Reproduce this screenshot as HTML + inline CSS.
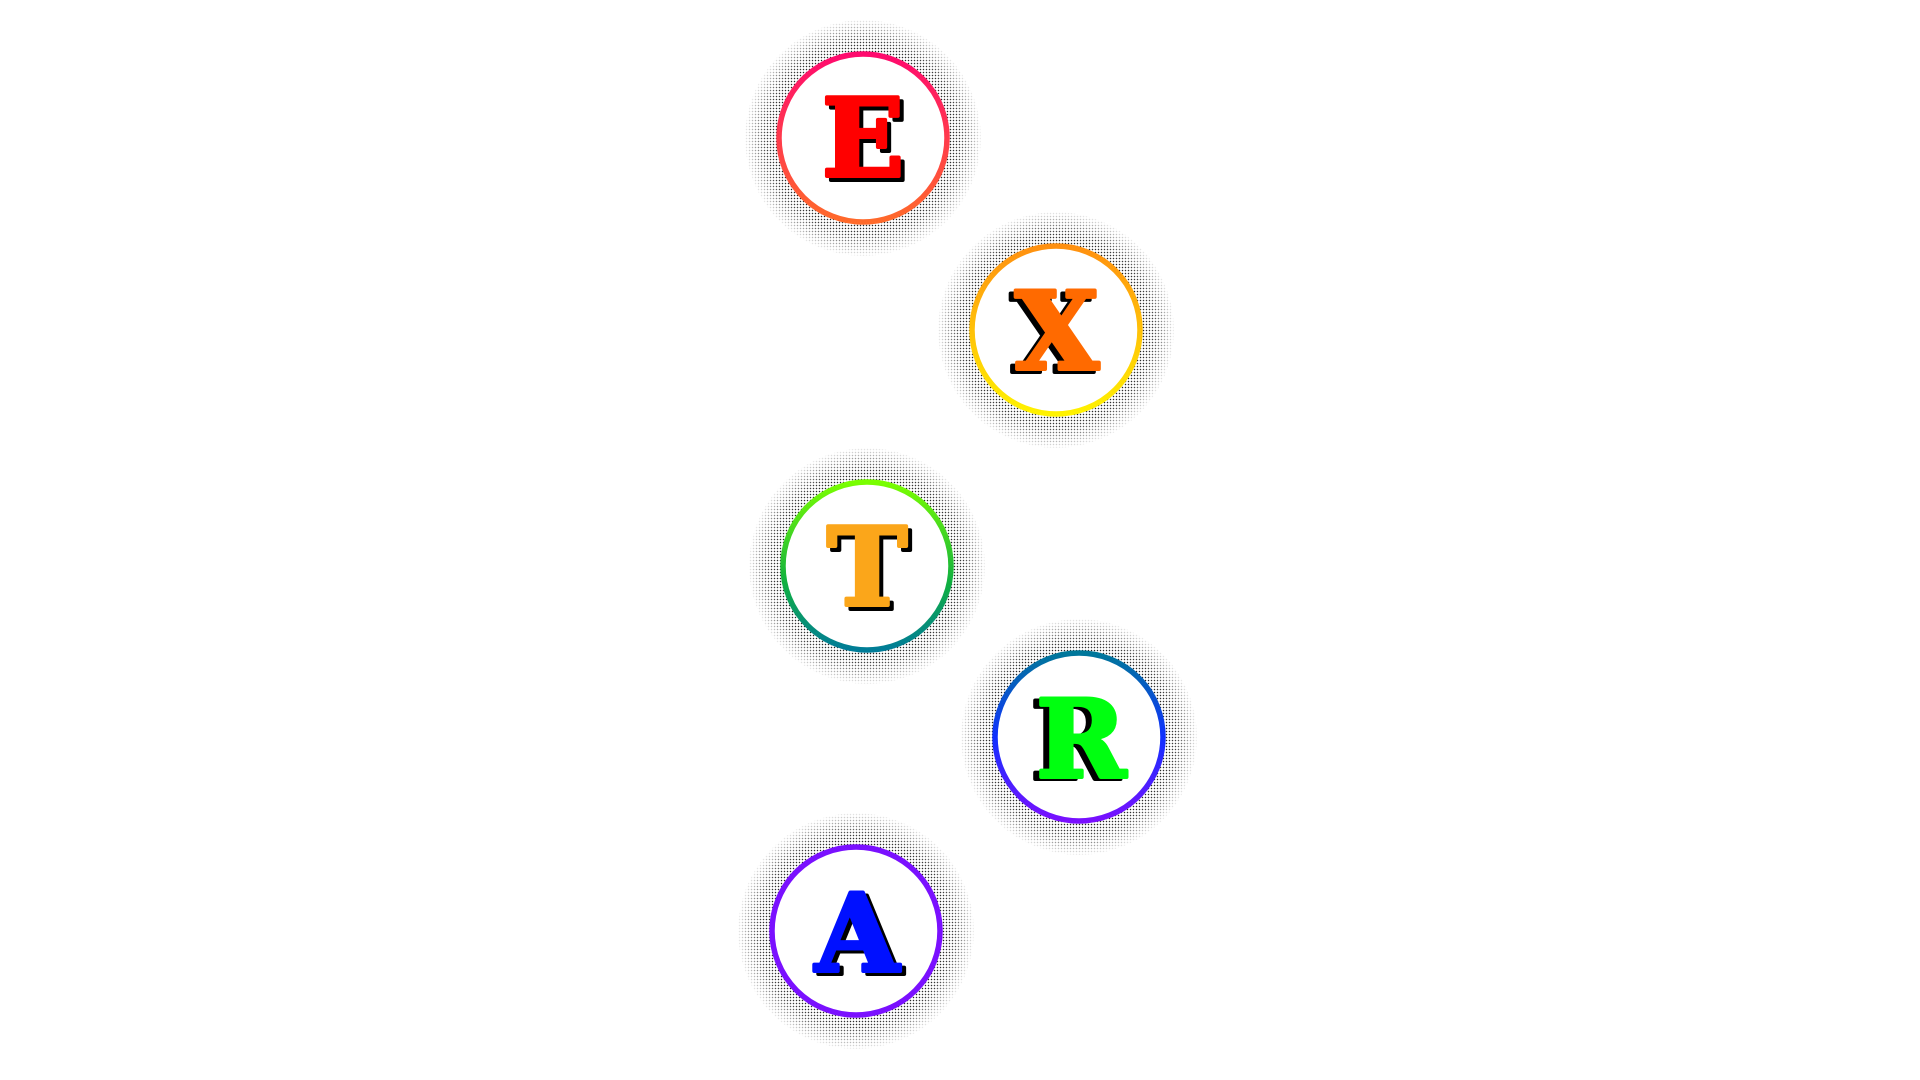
<!DOCTYPE html>
<html><head><meta charset="utf-8"><style>
html,body{margin:0;padding:0;background:#fff;width:1920px;height:1080px;overflow:hidden}
.halo{position:absolute;width:236px;height:236px;border-radius:50%;
background:radial-gradient(circle,#000 0.6px,transparent 0.9px) 0 0/3px 3px;
-webkit-mask:radial-gradient(circle,#000 0,#000 45%,rgba(0,0,0,.75) 58%,rgba(0,0,0,0) 72%);
mask:radial-gradient(circle,#000 0,#000 45%,rgba(0,0,0,.75) 58%,rgba(0,0,0,0) 72%);}
svg{position:absolute;left:0;top:0}
</style></head><body>
<div class="halo" style="left:745px;top:20px"></div>
<div class="halo" style="left:938px;top:212px"></div>
<div class="halo" style="left:749px;top:448px"></div>
<div class="halo" style="left:961px;top:619px"></div>
<div class="halo" style="left:738px;top:813px"></div>
<svg width="1920" height="1080">
<defs>
<linearGradient id="g1" x1="0" y1="0" x2="0" y2="1"><stop offset="0" stop-color="#ff0a6e"/><stop offset="1" stop-color="#ff6a2a"/></linearGradient>
<linearGradient id="g2" x1="0" y1="0" x2="0" y2="1"><stop offset="0" stop-color="#ff9010"/><stop offset="1" stop-color="#fff200"/></linearGradient>
<linearGradient id="g3" x1="0" y1="0" x2="0" y2="1"><stop offset="0" stop-color="#7aff00"/><stop offset="0.6" stop-color="#10b040"/><stop offset="1" stop-color="#007c98"/></linearGradient>
<linearGradient id="g4" x1="0" y1="0" x2="0" y2="1"><stop offset="0" stop-color="#00789a"/><stop offset="0.5" stop-color="#1030ff"/><stop offset="1" stop-color="#7a10ff"/></linearGradient>
<linearGradient id="g5" x1="0" y1="0" x2="0" y2="1"><stop offset="0" stop-color="#7a10ff"/><stop offset="1" stop-color="#7a10ff"/></linearGradient>
</defs>
<g fill="#fff" stroke-width="5.5">
<circle cx="863" cy="138" r="84" stroke="url(#g1)"/>
<circle cx="1056" cy="330" r="84" stroke="url(#g2)"/>
<circle cx="867" cy="566" r="84" stroke="url(#g3)"/>
<circle cx="1079" cy="737" r="84" stroke="url(#g4)"/>
<circle cx="856" cy="931" r="84" stroke="url(#g5)"/>
</g>
<g font-family="'DejaVu Serif',serif" font-weight="bold" font-size="108" text-anchor="middle" stroke-width="4" stroke-linejoin="round">
<text x="867" y="180" fill="#000" stroke="#000">E</text><text x="863" y="176" fill="#f00" stroke="#f00">E</text>
<text x="1052" y="372" fill="#000" stroke="#000">X</text><text x="1057" y="369" fill="#ff6a00" stroke="#ff6a00">X</text>
<text x="871" y="609" fill="#000" stroke="#000">T</text><text x="867" y="605" fill="#fba61a" stroke="#fba61a">T</text>
<text x="1075" y="779" fill="#000" stroke="#000">R</text><text x="1081" y="777" fill="#00ff10" stroke="#00ff10">R</text>
<text x="861" y="974" fill="#000" stroke="#000">A</text><text x="857" y="971" fill="#0010ff" stroke="#0010ff">A</text>
</g>
</svg>
</body></html>
